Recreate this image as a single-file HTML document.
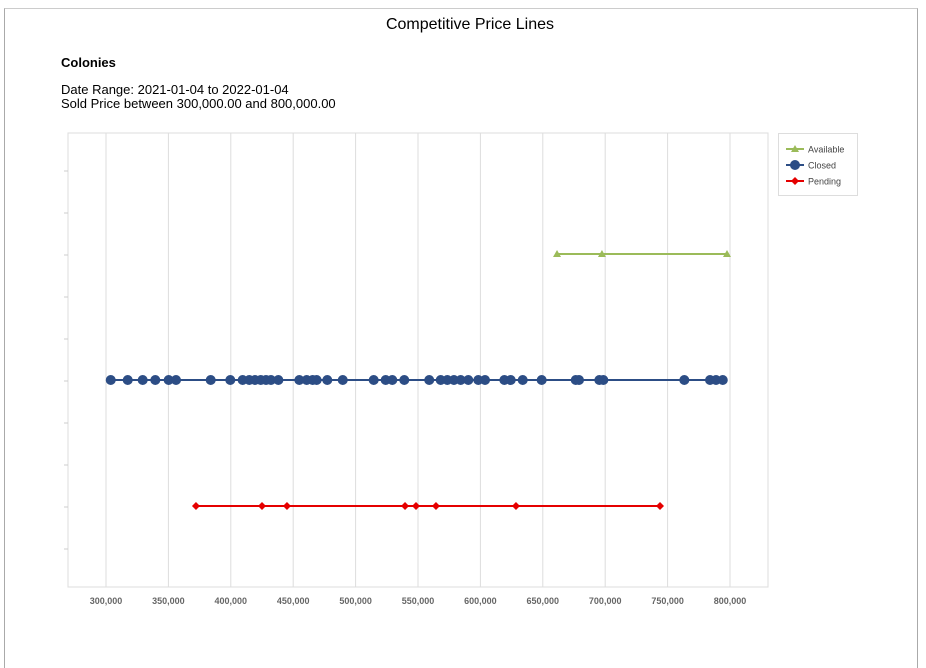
<!DOCTYPE html>
<html><head><meta charset="utf-8"><style>
body{margin:0;width:926px;height:662px;background:#fff;font-family:"Liberation Sans",sans-serif;overflow:hidden;position:relative}
#frame{position:absolute;left:4px;top:8px;width:914px;height:660px;border-left:1px solid #aaa;border-right:1px solid #aaa;border-top:1px solid #ccc;box-sizing:border-box}
.t{position:absolute;white-space:nowrap;color:#000}
</style></head><body>
<div id="frame"></div>
<div class="t" style="left:0;width:940px;text-align:center;top:16px;font-size:16px">Competitive Price Lines</div>
<div class="t" style="left:61px;top:55px;font-size:13px;font-weight:bold">Colonies</div>
<div class="t" style="left:61px;top:83px;font-size:13px;line-height:14px">Date Range: 2021-01-04 to 2022-01-04<br>Sold Price between 300,000.00 and 800,000.00</div>
<svg id="chart" width="926" height="662" style="position:absolute;left:0;top:0" xmlns="http://www.w3.org/2000/svg"></svg>
<script>
const xTicks=[300000,350000,400000,450000,500000,550000,600000,650000,700000,750000,800000];
const available=[661400,697400,797600];
const closed=[303800,317400,329400,339500,350200,356100,383900,399600,409500,414800,419400,424000,428200,432200,438100,454900,460800,465600,468800,477300,489700,514500,524100,529400,539000,559000,568200,573500,578800,584200,590300,598300,603700,619200,624300,633900,649100,676400,679000,695300,698500,763400,784000,788800,794200];
const pending=[372100,425000,445000,539600,548400,564400,628500,743900];
const seriesNames=["Available","Closed","Pending"];
const NS="http://www.w3.org/2000/svg";
const svg=document.getElementById('chart');
const L=68,T=133,R=768,B=587;
function xs(v){return 106+(v-300000)*624/500000;}
const rowY={Available:254,Closed:380,Pending:506};
function el(tag,attrs,parent){const e=document.createElementNS(NS,tag);for(const k in attrs)e.setAttribute(k,attrs[k]);(parent||svg).appendChild(e);return e;}
let pa=el('rect',{x:L,y:T,width:R-L,height:B-T,fill:'#fff',stroke:'#ddd'});


xTicks.forEach(v=>{
 const g=el('line',{x1:xs(v),x2:xs(v),y1:T,y2:B,stroke:'#ddd'});
 
 
 const t=el('text',{x:xs(v),y:604,'text-anchor':'middle','font-size':'9','font-weight':'bold',fill:'#666','font-family':'Liberation Sans, sans-serif'});
 t.textContent=v.toLocaleString('en-US');
 
 
});
for(let i=0;i<10;i++){
 const y=171+i*42;
 const tk=el('line',{x1:64,x2:L,y1:y,y2:y,stroke:'#ccc'});
 
 
}
function marker(type,x,y,color,parent){
 if(type==='tri')return el('polygon',{points:`${x},${y-4} ${x-4},${y+3} ${x+4},${y+3}`,fill:color},parent);
 if(type==='circ')return el('circle',{cx:x,cy:y,r:5,fill:color},parent);
 return el('polygon',{points:`${x},${y-4} ${x+4},${y} ${x},${y+4} ${x-4},${y}`,fill:color},parent);
}
function series(name,data,color,type){
 const g=el('g',{});
 
 
 const y=rowY[name];
 const mn=Math.min(...data),mx=Math.max(...data);
 el('line',{x1:xs(mn),x2:xs(mx),y1:y,y2:y,stroke:color,'stroke-width':2},g);
 data.forEach(v=>{
  const m=marker(type,xs(v),y,color,g);
  
  
 });
}
series('Available',available,'#9bbb59','tri');
series('Closed',closed,'#2c4d85','circ');
series('Pending',pending,'#e50000','dia');
const lg=el('g',{});


el('rect',{x:778.5,y:133.5,width:79,height:62,fill:'#fff',stroke:'#ddd'},lg);
const lc=['#9bbb59','#2c4d85','#e50000'],lt=['tri','circ','dia'];
seriesNames.forEach((n,i)=>{
 const y=149+i*16;
 const e=el('g',{},lg);
 
 
 el('line',{x1:786,x2:804,y1:y,y2:y,stroke:lc[i],'stroke-width':2},e);
 marker(lt[i],795,y,lc[i],e);
 const t=el('text',{x:808,y:y+3.5,'font-size':'9',fill:'#444','font-family':'Liberation Sans, sans-serif'},e);
 t.textContent=n;
});
</script>
</body></html>
